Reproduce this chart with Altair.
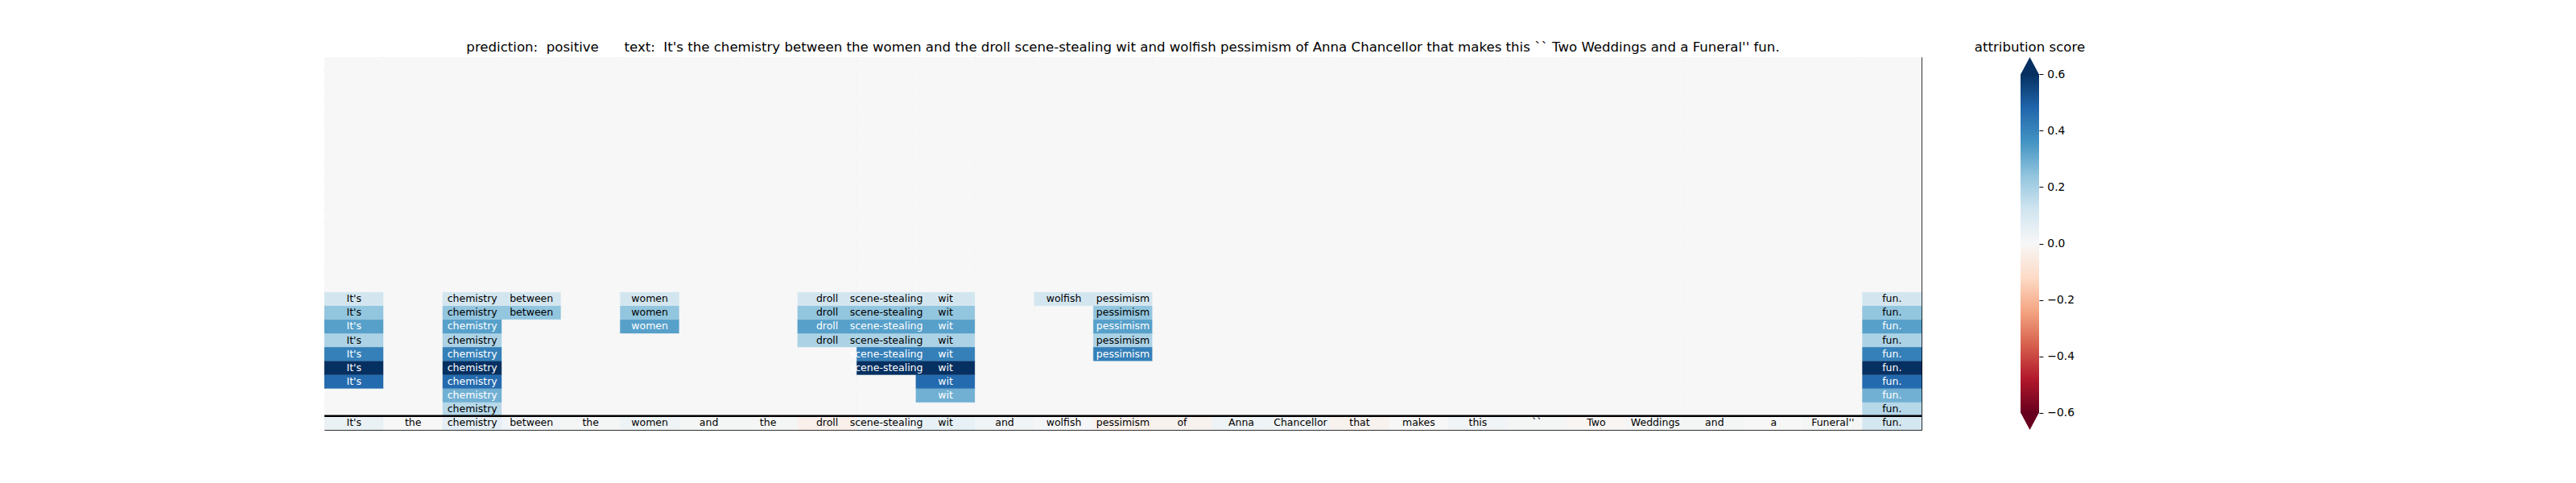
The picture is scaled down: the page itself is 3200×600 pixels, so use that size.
import altair as alt
import pandas as pd

# ---------------- data ----------------
tokens = ["It's", "the", "chemistry", "between", "the", "women", "and", "the",
          "droll", "scene-stealing", "wit", "and", "wolfish", "pessimism", "of",
          "Anna", "Chancellor", "that", "makes", "this", "``", "Two", "Weddings",
          "and", "a", "Funeral''", "fun."]

# attribution of each input token (bottom row)
input_scores = [0.04, 0.0, 0.06, 0.02, 0.01, 0.03, 0.01, 0.01, -0.03, 0.02, 0.05,
                0.02, 0.005, -0.03, -0.02, 0.03, 0.02, -0.02, 0.0, 0.02, 0.01,
                -0.01, 0.01, 0.01, 0.0, 0.01, 0.11]

# hierarchy levels above the input row (level 1 = just above input)
level_scores = [0.17, 0.29, 0.47, 0.62, 0.41, 0.19, 0.33, 0.24, 0.115]
level_spans = [
    [2, 26],
    [2, 10, 26],
    [0, 2, 10, 26],
    [0, 2, 9, 10, 26],
    [0, 2, 9, 10, 13, 26],
    [0, 2, 8, 9, 10, 13, 26],
    [0, 2, 5, 8, 9, 10, 13, 26],
    [0, 2, 3, 5, 8, 9, 10, 13, 26],
    [0, 2, 3, 5, 8, 9, 10, 12, 13, 26],
]
n_rows = 27
separator_row = [0]

prediction = "positive"
sentence = ("It's the chemistry between the women and the droll scene-stealing wit and "
            "wolfish pessimism of Anna Chancellor that makes this `` Two Weddings and a Funeral'' fun.")

# colour map (matplotlib RdBu, low = red, high = blue)
rdbu_colors = ["#67001f", "#b2182b", "#d6604d", "#f4a582", "#fddbc7", "#f7f7f7",
               "#d1e5f0", "#92c5de", "#4393c3", "#2166ac", "#053061"]
rdbu_stops = [-0.6, -0.48, -0.36, -0.24, -0.12, 0.0, 0.12, 0.24, 0.36, 0.48, 0.6]
cbar_min, cbar_max = -0.6, 0.6
cbar_ext = [-0.66, 0.66]
cbar_ticks = [-0.6, -0.4, -0.2, 0.0, 0.2, 0.4, 0.6]
white_text_threshold = 0.26

# ---------------- tables ----------------
cell_records = []
label_records = []
for r in range(n_rows):
    for c, tok in enumerate(tokens):
        if r == 0:
            s = input_scores[c]
            shown = True
        elif r <= len(level_scores) and c in level_spans[r - 1]:
            s = level_scores[r - 1]
            shown = True
        else:
            s = 0.0
            shown = False
        cell_records.append({"col": c, "row": r, "score": s})
        if shown:
            label_records.append({"col": c, "row": r, "score": s, "token": tok})
cells = pd.DataFrame(cell_records)
labels = pd.DataFrame(label_records)
sep = pd.DataFrame({"row": separator_row})

col_order = list(range(len(tokens)))
row_order = list(range(n_rows - 1, -1, -1))

FONT = "DejaVu Sans"
color_scale = alt.Scale(domain=rdbu_stops, range=rdbu_colors, interpolate="rgb", clamp=True)
xenc = alt.X("col:O", axis=None, scale=alt.Scale(domain=col_order, paddingInner=0, paddingOuter=0))
yenc = alt.Y("row:O", axis=None, scale=alt.Scale(domain=row_order, paddingInner=0, paddingOuter=0))

heat = alt.Chart(cells).mark_rect(strokeWidth=0.4).encode(
    x=xenc, y=yenc,
    color=alt.Color("score:Q", scale=color_scale, legend=None),
    stroke=alt.Stroke("score:Q", scale=color_scale, legend=None),
)
text = alt.Chart(labels).mark_text(font=FONT, fontSize=12.5, baseline="middle").encode(
    x=xenc, y=yenc,
    text="token:N",
    color=alt.condition(alt.datum.score > white_text_threshold, alt.value("white"), alt.value("black")),
)
rule = alt.Chart(sep).mark_rule(color="black", strokeWidth=2.5).encode(
    y=alt.Y("row:O", axis=None, bandPosition=0,
            scale=alt.Scale(domain=row_order, paddingInner=0, paddingOuter=0)),
)

title_text = ("prediction:\u00a0 " + prediction + "\u00a0 \u00a0 \u00a0 text:\u00a0 " + sentence)

main = alt.layer(heat, text, rule).properties(
    width=1984, height=463,
    title=alt.TitleParams(title_text, anchor="middle", font=FONT, fontSize=16.6,
                          fontWeight="normal", color="black", baseline="bottom", offset=4, dy=16.5),
    view=alt.ViewBackground(stroke="black", strokeWidth=1),
)

# ---------------- colour bar ----------------
gradient = alt.LinearGradient(
    gradient="linear",
    stops=[alt.GradientStop(color=col, offset=(v - cbar_min) / (cbar_max - cbar_min))
           for v, col in zip(rdbu_stops, rdbu_colors)],
    x1=0, x2=0, y1=1, y2=0,
)
cb_scale = alt.Scale(domain=cbar_ext, nice=False, zero=False)
cb_axis = alt.Axis(values=cbar_ticks, format=".1f", orient="right", domain=False, grid=False,
                   tickColor="black", tickSize=4.9, tickWidth=1, labelPadding=4.9,
                   labelFont=FONT, labelFontSize=13.9, labelColor="black", title=None)

cb_rect = alt.Chart(pd.DataFrame({"lo": [cbar_min], "hi": [cbar_max]})).mark_rect(color=gradient).encode(
    y=alt.Y("lo:Q", scale=cb_scale, axis=cb_axis), y2="hi:Q",
    x=alt.value(0), x2=alt.value("width"),
)
cb_up = alt.Chart(pd.DataFrame({"v": [cbar_max]})).mark_point(
    shape="M-1,0.05L1,0.05L0,-1.83Z", size=529, filled=True, opacity=1,
    color=rdbu_colors[-1], strokeWidth=0,
).encode(y=alt.Y("v:Q", scale=cb_scale, axis=cb_axis))
cb_down = alt.Chart(pd.DataFrame({"v": [cbar_min]})).mark_point(
    shape="M-1,-0.05L1,-0.05L0,1.83Z", size=529, filled=True, opacity=1,
    color=rdbu_colors[0], strokeWidth=0,
).encode(y=alt.Y("v:Q", scale=cb_scale, axis=cb_axis))

cbar = alt.layer(cb_rect, cb_up, cb_down).properties(
    width=23, height=463,
    title=alt.TitleParams("attribution score", anchor="middle", font=FONT, fontSize=16.6,
                          fontWeight="normal", color="black", baseline="bottom", offset=4, dy=16.5),
    view=alt.ViewBackground(stroke="transparent"),
)

chart = alt.hconcat(main, cbar, spacing=123, bounds="flush").properties(
    padding={"left": 393, "top": 42, "right": 10, "bottom": 10},
    background="white",
)

chart.save("out.html", embed_options={"renderer": "svg", "actions": False})
